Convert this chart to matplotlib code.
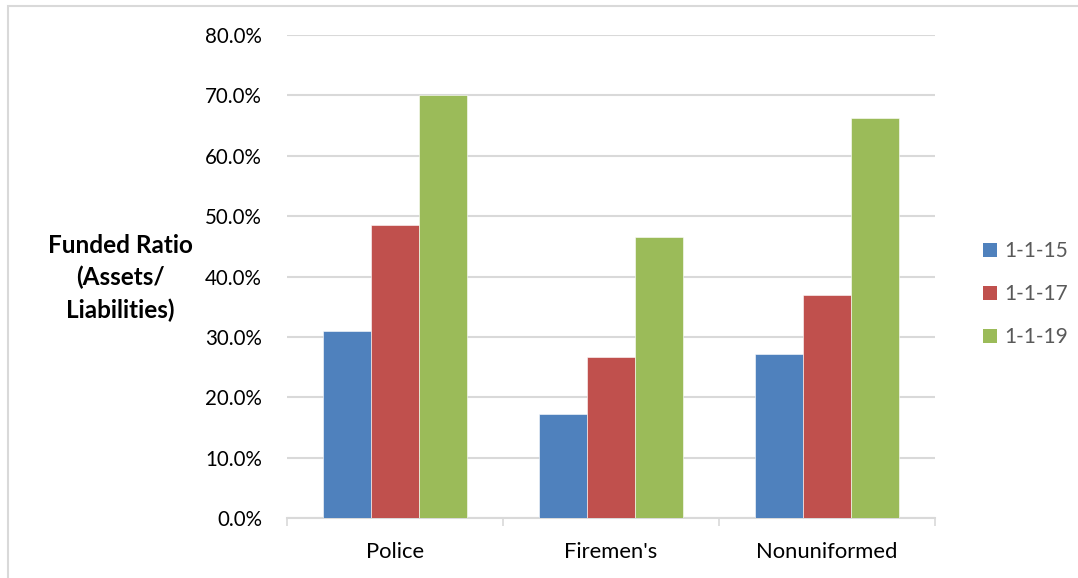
import numpy as np
import matplotlib.pyplot as plt
from matplotlib.patches import Rectangle, Patch

# ---------------------------- Data ---------------------------------
categories = ["Police", "Firemen's", "Nonuniformed"]
series_names = ["1-1-15", "1-1-17", "1-1-19"]
vals_2015 = [31.0, 17.3, 27.2]
vals_2017 = [48.6, 26.7, 37.0]
vals_2019 = [70.0, 46.5, 66.3]
yticks = [0, 10, 20, 30, 40, 50, 60, 70, 80]

colors = ["#4F81BD", "#C0504D", "#9BBB59"]
FONT = ["Lato", "DejaVu Sans"]
plt.rcParams["font.family"] = FONT

# ---------------------------- Figure -------------------------------
W, H = 1078, 578
fig = plt.figure(figsize=(W / 100, H / 100), dpi=100)
ax = fig.add_axes([287 / W, 1 - 518.3 / H, (935 - 287) / W, (518.3 - 35) / H])

x = np.arange(len(categories))
bw = 0.2236
for i, vals in enumerate([vals_2015, vals_2017, vals_2019]):
    ax.bar(x + (i - 1) * bw, vals, width=bw, color=colors[i],
           edgecolor="#ffffff", linewidth=0.4, zorder=3, label=series_names[i])

ax.set_xlim(-0.5, len(categories) - 0.5)
ax.set_ylim(0, 80)
ax.set_yticks(yticks)
ax.set_yticklabels([f"{v:.1f}%" for v in yticks])
ax.yaxis.grid(True, color="#D9D9D9", linewidth=1.5, zorder=0)
ax.set_axisbelow(True)

ax.set_xticks(x)
ax.set_xticklabels(categories)
ax.set_xticks(np.arange(len(categories) + 1) - 0.5, minor=True)
ax.tick_params(axis="x", which="major", length=0, pad=17, labelsize=15.8, colors="#000000")
ax.tick_params(axis="x", which="minor", length=6, width=1.2, color="#D9D9D9")
ax.tick_params(axis="y", length=0, pad=18, labelsize=14.8, colors="#000000")

for s in ["left", "right", "top"]:
    ax.spines[s].set_visible(False)
ax.spines["bottom"].set_color("#D9D9D9")
ax.spines["bottom"].set_linewidth(1.5)

# y-axis title (horizontal, bold, three lines)
fig.text(120 / W, 1 - 278 / H, "Funded Ratio\n(Assets/\nLiabilities)", ha="center", va="center",
         fontsize=17.5, fontweight="bold", linespacing=1.45, color="#000000")

# legend
handles = [Patch(facecolor=c, edgecolor="none") for c in colors]
leg = fig.legend(handles, series_names, loc="center left", bbox_to_anchor=(975 / W, 1 - 294 / H),
                 frameon=False, fontsize=15, handlelength=0.65, handleheight=0.65,
                 handletextpad=0.35, labelspacing=1.1, borderaxespad=0)
for t in leg.get_texts():
    t.set_color("#595959")

# outer frame of the chart area
fig.patches.append(Rectangle((8 / W, -0.1), 1.2, 1 - 6 / H + 0.1, transform=fig.transFigure,
                             fill=False, edgecolor="#D9D9D9", linewidth=1.5))

fig.savefig("out.png", dpi=100)
